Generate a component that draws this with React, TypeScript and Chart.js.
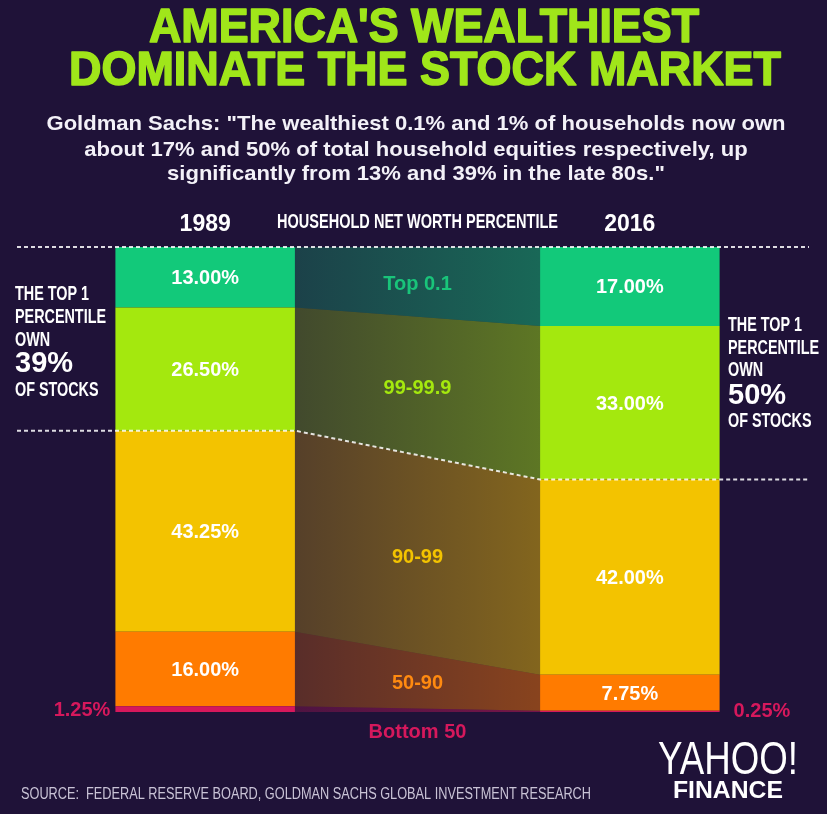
import React, { useEffect, useRef } from "react";
import { Chart, registerables } from "chart.js";

Chart.register(...registerables);

// ---------- data ----------
const categories = ["1989", "HOUSEHOLD NET WORTH PERCENTILE", "2016"];
const groups = ["Bottom 50", "50-90", "90-99", "99-99.9", "Top 0.1"];
const bottom50 = [1.25, null, 0.25];
const p50to90 = [16.0, null, 7.75];
const p90to99 = [43.25, null, 42.0];
const p99to999 = [26.5, null, 33.0];
const top01 = [13.0, null, 17.0];
const groupColors = ["#d6185c", "#ff7b00", "#f3c300", "#a4e80e", "#12c97a"];
const labelColors = ["#d6185c", "#ff8a10", "#f3c300", "#a4e80e", "#19c47a"];

const titleLines = ["AMERICA'S WEALTHIEST", "DOMINATE THE STOCK MARKET"];
const subtitleLines = [
  'Goldman Sachs: "The wealthiest 0.1% and 1% of households now own',
  "about 17% and 50% of total household equities respectively, up",
  'significantly from 13% and 39% in the late 80s."',
];
const leftNote = ["THE TOP 1", "PERCENTILE", "OWN", "39%", "OF STOCKS"];
const rightNote = ["THE TOP 1", "PERCENTILE", "OWN", "50%", "OF STOCKS"];
const sourceText = "SOURCE:  FEDERAL RESERVE BOARD, GOLDMAN SACHS GLOBAL INVESTMENT RESEARCH";

const BG = "#1f1238";
const NARROW = '"Liberation Sans Narrow", "Liberation Sans", Arial, sans-serif';
const SANS = '"Liberation Sans", Arial, sans-serif';

function rgba(hex: string, a: number) {
  const n = parseInt(hex.slice(1), 16);
  return `rgba(${(n >> 16) & 255},${(n >> 8) & 255},${n & 255},${a})`;
}

function txt(
  ctx: CanvasRenderingContext2D,
  s: string,
  x: number,
  y: number,
  font: string,
  color: string,
  align: CanvasTextAlign = "center",
  width?: number,
  sxIn?: number,
  stroke?: number
) {
  ctx.save();
  ctx.font = font;
  ctx.fillStyle = color;
  ctx.textAlign = align;
  ctx.textBaseline = "middle";
  let sx = sxIn ?? 1;
  if (width) sx = width / ctx.measureText(s).width;
  ctx.translate(x, y);
  ctx.scale(sx, 1);
  ctx.fillText(s, 0, 0);
  if (stroke) {
    ctx.strokeStyle = color;
    ctx.lineWidth = stroke;
    ctx.lineJoin = "round";
    ctx.strokeText(s, 0, 0);
  }
  ctx.restore();
  return sx;
}

function measure(ctx: CanvasRenderingContext2D, s: string, font: string) {
  ctx.save();
  ctx.font = font;
  const w = ctx.measureText(s).width;
  ctx.restore();
  return w;
}

const infographic = {
  id: "infographic",
  beforeDraw(chart: any) {
    const { ctx, width, height } = chart;
    ctx.save();
    ctx.fillStyle = BG;
    ctx.fillRect(0, 0, width, height);
    ctx.restore();
  },
  beforeDatasetsDraw(chart: any) {
    const { ctx } = chart;
    chart.data.datasets.forEach((ds: any, i: number) => {
      const meta = chart.getDatasetMeta(i);
      const a = meta.data[0];
      const b = meta.data[2];
      const x0 = a.x + a.width / 2;
      const x1 = b.x - b.width / 2;
      const g = ctx.createLinearGradient(x0, 0, x1, 0);
      g.addColorStop(0, rgba(groupColors[i], 0.26));
      g.addColorStop(1, rgba(groupColors[i], 0.47));
      ctx.save();
      ctx.fillStyle = g;
      ctx.beginPath();
      ctx.moveTo(x0, a.y);
      ctx.lineTo(x1, b.y);
      ctx.lineTo(x1, b.base);
      ctx.lineTo(x0, a.base);
      ctx.closePath();
      ctx.fill();
      ctx.restore();
    });
  },
  afterDatasetsDraw(chart: any) {
    const { ctx, chartArea, scales } = chart;
    const metas = chart.data.datasets.map((_: any, i: number) => chart.getDatasetMeta(i));
    const bar0 = metas[0].data[0];
    const bar2 = metas[0].data[2];
    const x0 = bar0.x + bar0.width / 2;
    const x1 = bar2.x - bar2.width / 2;
    const xm = (x0 + x1) / 2;

    // dashed lines
    ctx.save();
    ctx.strokeStyle = "rgba(255,255,255,0.85)";
    ctx.lineWidth = 2;
    ctx.setLineDash([4, 3]);
    const yTop = scales.y.getPixelForValue(100);
    ctx.beginPath();
    ctx.moveTo(17, yTop);
    ctx.lineTo(809, yTop);
    ctx.stroke();
    const t0 = metas[2].data[0].y;
    const t2 = metas[2].data[2].y;
    ctx.beginPath();
    ctx.moveTo(17, t0);
    ctx.lineTo(x0, t0);
    ctx.lineTo(x1, t2);
    ctx.lineTo(809, t2);
    ctx.stroke();
    ctx.restore();

    // segment labels
    chart.data.datasets.forEach((ds: any, i: number) => {
      const m = metas[i];
      if (i > 0) {
        [0, 2].forEach((k) => {
          const el = m.data[k];
          const v = ds.data[k];
          txt(ctx, v.toFixed(2) + "%", el.x, (el.y + el.base) / 2 + 1, `bold 21px ${SANS}`, "#ffffff", "center", undefined, 0.95);
        });
        const a = m.data[0];
        const b = m.data[2];
        const ym = (a.y + a.base + b.y + b.base) / 4;
        txt(ctx, groups[i], xm, ym + 3, `bold 20px ${SANS}`, labelColors[i]);
      } else {
        const a = m.data[0];
        const b = m.data[2];
        txt(ctx, ds.data[0].toFixed(2) + "%", a.x - a.width / 2 - 5, a.base - 2, `bold 20px ${SANS}`, labelColors[0], "right");
        txt(ctx, ds.data[2].toFixed(2) + "%", b.x + b.width / 2 + 14, b.base - 1, `bold 20px ${SANS}`, labelColors[0], "left");
        txt(ctx, groups[0], xm, a.base + 20, `bold 20px ${SANS}`, labelColors[0]);
      }
    });

    // column headers
    const labels = chart.data.labels;
    txt(ctx, labels[0], bar0.x, chartArea.top - 22, `bold 23px ${SANS}`, "#ffffff");
    txt(ctx, labels[2], bar2.x, chartArea.top - 22, `bold 23px ${SANS}`, "#ffffff");
    txt(ctx, labels[1], scales.x.getPixelForValue(1), chartArea.top - 25, `bold 20px ${NARROW}`, "#ffffff", "center", 281);
  },
  afterDraw(chart: any) {
    const { ctx } = chart;
    // title
    txt(ctx, titleLines[0], 424, 29, `bold 48px ${NARROW}`, "#a0e61a", "center", 550, undefined, 1.6);
    txt(ctx, titleLines[1], 425, 72, `bold 48px ${NARROW}`, "#a0e61a", "center", 712, undefined, 1.6);
    // subtitle
    const sf = `bold 21px ${SANS}`;
    const sx = 739 / measure(ctx, subtitleLines[0], sf);
    const sy = [124, 150, 174];
    subtitleLines.forEach((l, i) => txt(ctx, l, 416, sy[i], sf, "#f3f1f8", "center", undefined, sx));
    // side notes
    const nf = `bold 20px ${NARROW}`;
    const nsx = 91 / measure(ctx, "PERCENTILE", nf);
    const ly = [294, 317, 340, 364, 390];
    leftNote.forEach((l, i) =>
      txt(ctx, l, 15, ly[i], i === 3 ? `bold 29px ${NARROW}` : nf, "#ffffff", "left", undefined, i === 3 ? 1 : nsx)
    );
    const ry = [325, 348, 370, 396, 421];
    rightNote.forEach((l, i) =>
      txt(ctx, l, 728, ry[i], i === 3 ? `bold 29px ${NARROW}` : nf, "#ffffff", "left", undefined, i === 3 ? 1 : nsx)
    );
    // source
    txt(ctx, sourceText, 21, 795, `16px ${NARROW}`, "#c9c3d6", "left", 570);
    // logo
    txt(ctx, "YAHOO!", 728, 761, `46px ${NARROW}`, "#ffffff", "center", 140);
    txt(ctx, "FINANCE", 728, 791, `bold 24px ${SANS}`, "#ffffff", "center", 110);
  },
};

export default function App() {
  const ref = useRef<HTMLCanvasElement | null>(null);
  useEffect(() => {
    if (!ref.current) return;
    const series = [bottom50, p50to90, p90to99, p99to999, top01];
    const chart = new Chart(ref.current, {
      type: "bar",
      data: {
        labels: categories,
        datasets: series.map((d, i) => ({
          label: groups[i],
          data: d,
          backgroundColor: groupColors[i],
          borderWidth: 0,
          categoryPercentage: 0.8455,
          barPercentage: 1,
        })),
      },
      options: {
        responsive: false,
        animation: false,
        layout: { padding: { left: 99, right: 91, top: 247, bottom: 102 } },
        plugins: { legend: { display: false }, tooltip: { enabled: false }, title: { display: false } },
        scales: {
          x: { stacked: true, display: false },
          y: { stacked: true, display: false, min: 0, max: 100 },
        },
      },
      plugins: [infographic],
    });
    return () => chart.destroy();
  }, []);
  return (
    <div style={{ position: "fixed", left: 0, top: 0, width: 827, height: 814, background: BG }}>
      <canvas ref={ref} width={827} height={814} style={{ width: 827, height: 814, display: "block" }} />
    </div>
  );
}
